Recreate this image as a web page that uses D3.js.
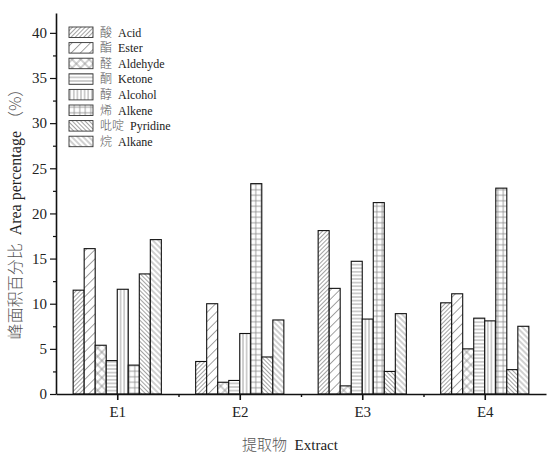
<!DOCTYPE html>
<html>
<head>
<meta charset="utf-8">
<script src="https://cdn.jsdelivr.net/npm/d3@7"></script>
<style>
  body { margin: 0; background: #fff; }
  text { font-family: "Liberation Serif", "Noto Sans CJK SC", serif; fill: #222; }
</style>
</head>
<body>
<svg id="chart" width="547" height="454"></svg>
<script>
var groups = ["E1", "E2", "E3", "E4"]
var seriesCn = ["酸", "酯", "醛", "酮", "醇", "烯", "吡啶", "烷"]
var seriesEn = ["Acid", "Ester", "Aldehyde", "Ketone", "Alcohol", "Alkene", "Pyridine", "Alkane"]

// values per series, one per group E1..E4
var acid     = [11.5, 3.6, 18.1, 10.1]
var ester    = [16.1, 10.0, 11.7, 11.1]
var aldehyde = [5.4, 1.3, 0.9, 5.0]
var ketone   = [3.7, 1.5, 14.7, 8.4]
var alcohol  = [11.6, 6.7, 8.3, 8.1]
var alkene   = [3.2, 23.3, 21.2, 22.8]
var pyridine = [13.3, 4.1, 2.5, 2.7]
var alkane   = [17.1, 8.2, 8.9, 7.5]
var seriesValues = [acid, ester, aldehyde, ketone, alcohol, alkene, pyridine, alkane]

var yTicks = [0, 5, 10, 15, 20, 25, 30, 35, 40]

var svg = d3.select("#chart")
var defs = svg.append("defs")

var xleft = 56, xright = 546, ytop = 13, ybottom = 394

var x = d3.scaleLinear().domain([0.5, 4.5]).range([xleft, xright])
var y = d3.scaleLinear().domain([0, 42.2]).range([ybottom, ytop])

var groupWidth = 0.72 * (x(2) - x(1))
var barScale = d3.scaleBand()
    .domain(d3.range(seriesEn.length))
    .range([-groupWidth / 2, groupWidth / 2])
    .padding(0)

// hatch patterns, one per series
var hatchColor = "#8a8a8a"
function linePattern(id, size, angle, lines) {
    var p = defs.append("pattern")
	.attr("id", id)
	.attr("patternUnits", "userSpaceOnUse")
	.attr("width", size)
	.attr("height", size)
	.attr("patternTransform", "rotate(" + angle + ")")
    p.append("rect").attr("width", size).attr("height", size).attr("fill", "#fff")
    lines.forEach(function(l) {
	p.append("line")
	    .attr("x1", l[0] * size).attr("y1", l[1] * size)
	    .attr("x2", l[2] * size).attr("y2", l[3] * size)
	    .attr("stroke", hatchColor)
	    .attr("stroke-width", 0.8)
    })
}
var vert = [[0.5, 0, 0.5, 1]]
var horiz = [[0, 0.5, 1, 0.5]]
linePattern("p0", 3, 45, vert)
linePattern("p1", 6.5, 45, vert)
linePattern("p2", 6, 45, vert.concat(horiz))
linePattern("p3", 3.6, 0, horiz)
linePattern("p4", 3.6, 0, vert)
linePattern("p5", 5.5, 0, vert.concat(horiz))
linePattern("p6", 3, -45, vert)
linePattern("p7", 4, -45, vert)

// bars
var barGroup = svg.append("g").attr("id", "bars")
seriesValues.forEach(function(vals, si) {
    barGroup.append("g")
	.selectAll("rect")
	.data(vals)
	.enter()
	.append("rect")
	.attr("x", function(d, i) { return x(i + 1) + barScale(si) })
	.attr("y", function(d) { return y(d) })
	.attr("width", barScale.bandwidth())
	.attr("height", function(d) { return y(0) - y(d) })
	.attr("fill", "url(#p" + si + ")")
	.attr("stroke", "#111")
	.attr("stroke-width", 1.1)
})

// axes
var yAxis = d3.axisLeft(y).tickValues(yTicks).tickSize(6).tickPadding(3).tickSizeOuter(0)
var gy = svg.append("g")
    .attr("transform", "translate(" + xleft + ",0)")
    .call(yAxis)
gy.select(".domain").attr("stroke", "#111").attr("stroke-width", 1.6)
gy.selectAll(".tick line").attr("stroke", "#111").attr("stroke-width", 1.2)
gy.selectAll(".tick text").attr("font-size", "15px").attr("font-family", "Liberation Serif").attr("fill", "#333")

var yMinor = d3.axisLeft(y).tickValues(d3.range(2.5, 42, 5)).tickSize(3).tickFormat("").tickSizeOuter(0)
var gym = svg.append("g")
    .attr("transform", "translate(" + xleft + ",0)")
    .call(yMinor)
gym.select(".domain").remove()
gym.selectAll(".tick line").attr("stroke", "#111").attr("stroke-width", 1.2)

var xAxis = d3.axisBottom(x).tickValues([1, 2, 3, 4])
    .tickFormat(function(d) { return groups[d - 1] })
    .tickSize(6).tickPadding(6).tickSizeOuter(0)
var gx = svg.append("g")
    .attr("transform", "translate(0," + ybottom + ")")
    .call(xAxis)
gx.select(".domain").attr("stroke", "#111").attr("stroke-width", 1.6)
gx.selectAll(".tick line").attr("stroke", "#111").attr("stroke-width", 1.6)
gx.selectAll(".tick text").attr("font-size", "15px").attr("font-family", "Liberation Serif").attr("fill", "#333")

var xMinor = d3.axisBottom(x).tickValues([1.5, 2.5, 3.5]).tickSize(3).tickFormat("").tickSizeOuter(0)
var gxm = svg.append("g")
    .attr("transform", "translate(0," + ybottom + ")")
    .call(xMinor)
gxm.select(".domain").remove()
gxm.selectAll(".tick line").attr("stroke", "#111").attr("stroke-width", 1.4)

// axis titles
var yTitle = svg.append("text")
    .attr("transform", "translate(21,210) rotate(-90)")
    .attr("text-anchor", "middle")
    .attr("font-size", "16px")
    .attr("fill", "#333")
yTitle.append("tspan").attr("font-family", "Noto Sans CJK SC").attr("font-weight", 300).attr("fill", "#555").text("峰面积百分比")
yTitle.append("tspan").text("\u00a0\u00a0Area percentage\u00a0")
yTitle.append("tspan").attr("font-family", "Noto Sans CJK SC").attr("font-weight", 300).attr("fill", "#555").text("（%）")

var xTitle = svg.append("text")
    .attr("x", 290)
    .attr("y", 450)
    .attr("text-anchor", "middle")
    .attr("font-size", "15px")
    .attr("fill", "#333")
xTitle.append("tspan").attr("font-family", "Noto Sans CJK SC").attr("font-weight", 300).attr("fill", "#555").text("提取物")
xTitle.append("tspan").text("\u00a0\u00a0Extract")

// legend
var legend = svg.append("g").attr("id", "legend")
var legTop = 27, legStep = 15.6
seriesEn.forEach(function(name, i) {
    var ly = legTop + i * legStep
    legend.append("rect")
	.attr("x", 69).attr("y", ly)
	.attr("width", 24).attr("height", 10.5)
	.attr("fill", "url(#p" + i + ")")
	.attr("stroke", "#333")
	.attr("stroke-width", 0.9)
    var t = legend.append("text")
	.attr("x", 100).attr("y", ly + 9.5)
	.attr("font-size", "12px")
    t.append("tspan").attr("font-family", "Noto Sans CJK SC").attr("font-weight", 300).attr("fill", "#555").text(seriesCn[i])
    t.append("tspan").text("\u00a0\u00a0" + name)
})
</script>
</body>
</html>
